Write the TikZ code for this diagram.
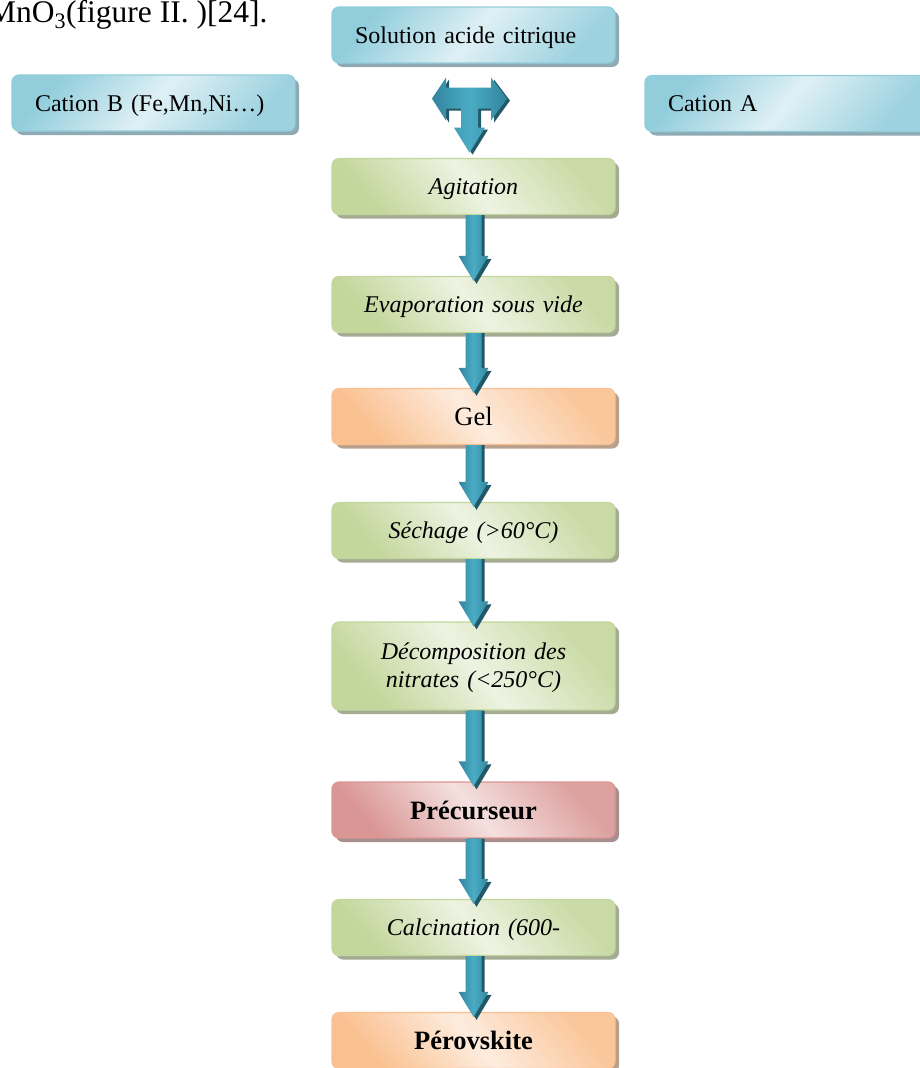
\documentclass[tikz,border=0pt]{standalone}
\usepackage{fontspec}
\setmainfont{Liberation Serif}
\usetikzlibrary{shadows,calc,positioning}

\definecolor{bluedark}{HTML}{92CDDC}
\definecolor{bluelight}{HTML}{DFF0F5}
\definecolor{blueshadow}{HTML}{8FAAB3}
\definecolor{greendark}{HTML}{C3D69B}
\definecolor{greenlight}{HTML}{EEF3E2}
\definecolor{greenshadow}{HTML}{A4AB93}
\definecolor{orangedark}{HTML}{FAC08F}
\definecolor{orangelight}{HTML}{FDECDE}
\definecolor{orangeshadow}{HTML}{B9A08D}
\definecolor{reddark}{HTML}{D99694}
\definecolor{redlight}{HTML}{F4E0DF}
\definecolor{redshadow}{HTML}{A88F8E}
\definecolor{arrowmid}{HTML}{4BACC6}
\definecolor{arrowside}{HTML}{31859C}
\definecolor{arrowdeep}{HTML}{215968}

% body of a flow arrow, #3 = offset for the dark back copy
\newcommand{\arrowbody}[3]{%
	let \p1=(#1.south), \p2=(#2.north) in
	({\x1-8pt+#3},{\y1}) -- ({\x1+8pt+#3},{\y1}) -- ({\x1+8pt+#3},{\y2+20pt-#3})
	-- ({\x1+15pt+#3},{\y2+20pt-#3}) -- ({\x1+#3},{\y2-5pt-#3})
	-- ({\x1-15pt+#3},{\y2+20pt-#3}) -- ({\x1-8pt+#3},{\y2+20pt-#3}) -- cycle}
\newcommand{\flowarrow}[2]{%
	\fill[arrowdeep] \arrowbody{#1}{#2}{3pt};
	\path[flow] \arrowbody{#1}{#2}{0pt};}

% three way arrow under the top box
\newcommand{\teeshape}{(-37.5,0) -- (-23.5,-21) -- (-23.5,-11) -- (21.5,-11) -- (21.5,-21)
	-- (37.5,0) -- (21.5,22) -- (21.5,10) -- (8.5,10) -- (8.5,29) -- (15.5,29) -- (0,54)
	-- (-15.5,29) -- (-8.5,29) -- (-8.5,10) -- (-23.5,10) -- (-23.5,22) -- cycle}

\begin{document}
\begin{tikzpicture}[x=1pt,y=-1pt,
	box/.style={rounded corners=7pt, minimum height=56pt, text width=237pt, inner xsep=23pt,
		inner ysep=0pt, text depth=0pt, line width=1.2pt, text=black, font=\fontsize{24}{28}\selectfont},
	bluebox/.style={box, align=left, draw=bluedark, left color=bluedark, right color=bluedark!85!bluelight,
		middle color=bluelight, shading angle=50,
		drop shadow={shadow xshift=4pt, shadow yshift=-4pt, opacity=1, fill=blueshadow}},
	greenbox/.style={box, align=center, draw=greendark, left color=greendark!85!greenlight, right color=greendark,
		middle color=greenlight, shading angle=-50, font=\fontsize{24}{28}\selectfont\itshape,
		drop shadow={shadow xshift=4pt, shadow yshift=-4pt, opacity=1, fill=greenshadow}},
	orangebox/.style={box, align=center, draw=orangedark, left color=orangedark!85!orangelight, right color=orangedark,
		middle color=orangelight, shading angle=-50, font=\fontsize{26.5}{30}\selectfont,
		drop shadow={shadow xshift=4pt, shadow yshift=-4pt, opacity=1, fill=orangeshadow}},
	redbox/.style={box, align=center, draw=reddark, left color=reddark!85!redlight, right color=reddark,
		middle color=redlight, shading angle=-50, font=\fontsize{26.5}{30}\selectfont\bfseries,
		drop shadow={shadow xshift=4pt, shadow yshift=-4pt, opacity=1, fill=redshadow}},
	flow/.style={left color=arrowside, right color=arrowside, middle color=arrowmid}]
	
	\useasboundingbox (0,0) rectangle (920,1068);
	\clip (0,0) rectangle (920,1068);
	
	\node[anchor=base west, inner sep=0pt, font=\fontsize{31.5}{35}\selectfont] (caption) at (-12,22) {MnO\textsubscript{3}(figure II. )[24].};
	
	\node[bluebox] (sol) at (473.5,35) {Solution acide citrique};
	
	\node[bluebox] (catb) at (153.5,103) {Cation B (Fe,Mn,Ni…)};
	
	\node[bluebox] (cata) at (786.5,103.5) {Cation A};
	
	\node[greenbox] (agit) at (473.5,186.5) {Agitation};
	
	\node[greenbox] (evap) at (473.5,304.5) {Evaporation sous vide};
	
	\node[orangebox] (gel) at (473.5,416.5) {Gel};
	
	\node[greenbox] (sech) at (473.5,530.5) {Séchage (>60°C)};
	
	\node[greenbox, minimum height=88pt, text depth=30pt] (decomp) at (473.5,666) {Décomposition des\\nitrates (<250°C)};
	
	\node[redbox] (prec) at (473.5,810) {Précurseur};
	
	\node[greenbox] (calcin) at (473.5,927.5) {Calcination (600-};
	
	\node[orangebox, font=\fontsize{26.5}{30}\selectfont\bfseries] (perov) at (473.5,1040.5) {Pérovskite};
	
	\coordinate (tee) at ($(sol.south)+(-4,35)$);
	\begin{scope}[shift={(tee)}]
		\fill[arrowdeep, xshift=3pt, yshift=-2pt] \teeshape;
		\path[flow] \teeshape;
	\end{scope}
	
	\flowarrow{agit}{evap}
	\flowarrow{evap}{gel}
	\flowarrow{gel}{sech}
	\flowarrow{sech}{decomp}
	\flowarrow{decomp}{prec}
	\flowarrow{prec}{calcin}
	\flowarrow{calcin}{perov}
	
\end{tikzpicture}
\end{document}
